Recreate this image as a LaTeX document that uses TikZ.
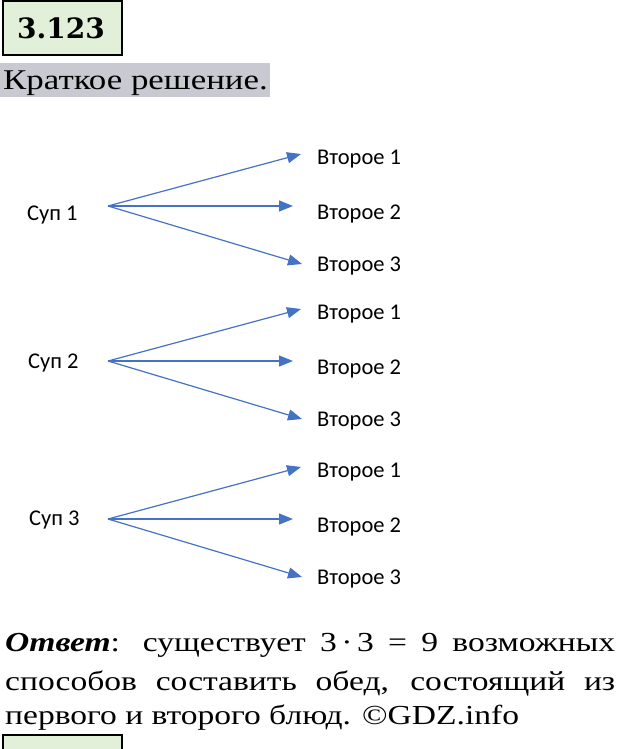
\documentclass[tikz,border=0pt]{standalone}
\usepackage{fontspec}
\setmainfont{Liberation Serif}
\newfontfamily\dishfont{Carlito}
\newfontfamily\headfont{DejaVu Serif}
\newfontfamily\bodyfont[FakeStretch=1.22]{Liberation Serif}
\usetikzlibrary{arrows.meta}

\definecolor{boxgreen}{RGB}{226,239,217}
\definecolor{markgray}{RGB}{201,201,209}
\definecolor{arrowblue}{RGB}{68,114,196}

\begin{document}
\begin{tikzpicture}[x=1pt,y=-1pt,>={Triangle[length=14pt,width=11pt]}]
    \tikzstyle{numbox}=[draw=black,line width=2pt,fill=boxgreen]
    \tikzstyle{dish}=[anchor=base west,inner sep=0pt,font=\dishfont\fontsize{22.5}{26}\selectfont]
    \tikzstyle{line}=[anchor=base west,inner sep=0pt,font=\bodyfont\fontsize{27.5}{38}\selectfont]
    \tikzstyle{link}=[->,draw=arrowblue,line width=1.2pt]

    \useasboundingbox (0,0) rectangle (620,749);

    % Header
    \draw[numbox] (3,1) rectangle (122,55);
    \node[inner sep=0pt,font=\headfont\bfseries\fontsize{28}{32}\selectfont] (num) at (61,28) {3.123};
    \fill[markgray] (0,63) rectangle (270,97);
    \node[line,font=\bodyfont\fontsize{28.6}{34}\selectfont] (title) at (3,90) {Краткое решение.};

    % Soups
    \foreach \i/\x/\y in {1/27/220, 2/28/368, 3/29/525}
        \node[dish] (S-\i) at (\x,\y) {Суп \i};

    % Branches to the second dishes
    \foreach \i/\y in {1/206, 2/361, 3/519} {
        \coordinate (F-\i) at (108,\y);
        \coordinate (T-\i-1) at (301,\y-52);
        \coordinate (T-\i-2) at (293,\y);
        \coordinate (T-\i-3) at (302,\y+58);
        \node[dish] (D-\i-1) at (317,\y-42) {Второе 1};
        \node[dish] (D-\i-2) at (317,\y+13) {Второе 2};
        \node[dish] (D-\i-3) at (317,\y+65) {Второе 3};
        \foreach \j in {1,2,3}
            \draw[link] (F-\i) -- (T-\i-\j);
    }

    % Answer
    \node[line] (A-1) at (5,651) {\makebox[610pt][s]{\textbf{\textit{Ответ}}: существует 3\,·\,3 = 9 возможных}};
    \node[line] (A-2) at (5,690) {\makebox[610pt][s]{способов составить обед, состоящий из}};
    \node[line] (A-3) at (5,724) {первого и второго блюд. ©GDZ.info};

    \draw[numbox] (3,735) rectangle (122,752);
\end{tikzpicture}
\end{document}
